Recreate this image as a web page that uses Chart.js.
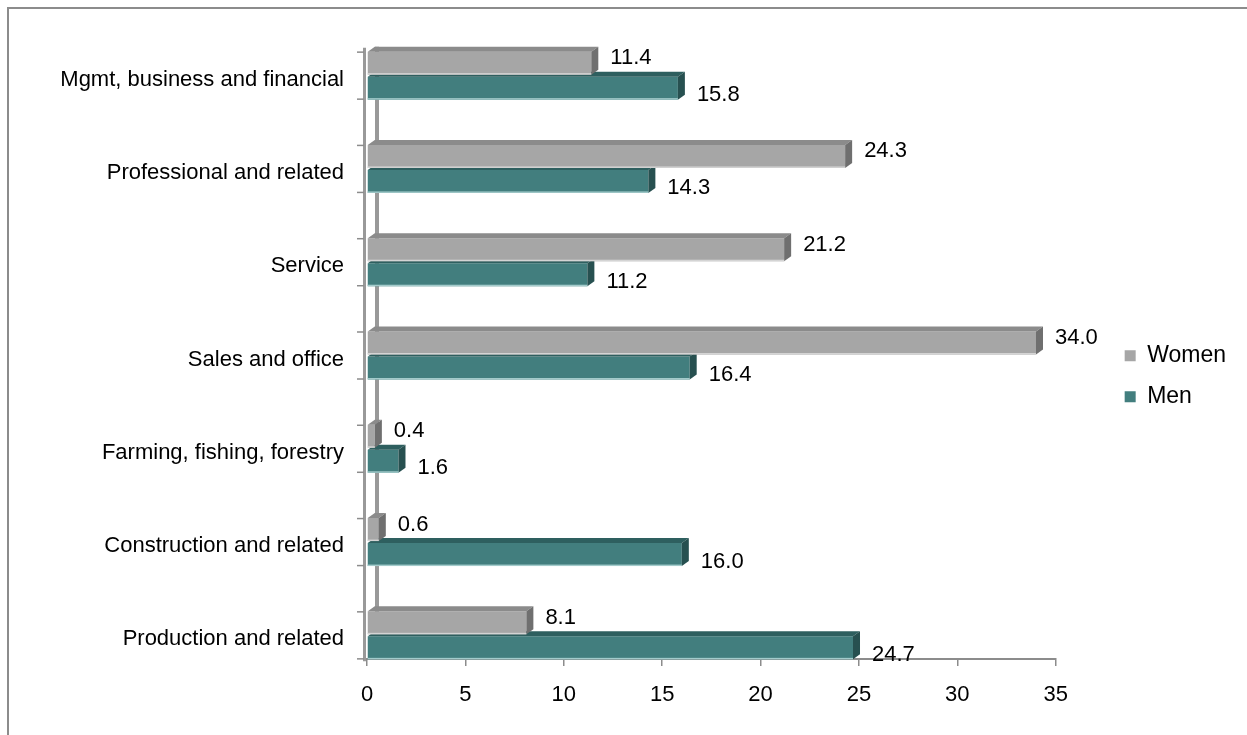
<!DOCTYPE html>
<html>
<head>
<meta charset="utf-8">
<title>Employed persons by occupation and sex</title>
<script src="https://cdn.jsdelivr.net/npm/chart.js@4.4.1/dist/chart.umd.min.js"></script>
<style>
  html, body { margin: 0; padding: 0; background: #fff; overflow: hidden; }
  #wrap { position: relative; width: 1247px; height: 735px; }
  #frame {
    position: absolute; left: 7px; top: 7px; width: 1300px; height: 800px;
    border-top: 2px solid #8c8c8c; border-left: 2px solid #8c8c8c;
    pointer-events: none;
  }
</style>
</head>
<body>
<div id="wrap">
  <canvas id="chart" width="1247" height="735"></canvas>
  <div id="frame"></div>
</div>
<script>
// occupation groups, top to bottom
const occupations = [
  'Mgmt, business and financial',
  'Professional and related',
  'Service',
  'Sales and office',
  'Farming, fishing, forestry',
  'Construction and related',
  'Production and related'
];

// percent of employed, by sex
const women = [11.4, 24.3, 21.2, 34.0, 0.4, 0.6, 8.1];
const men = [15.8, 14.3, 11.2, 16.4, 1.6, 16.0, 24.7];

// value axis
const xMin = 0;
const xMax = 35;
const xStep = 5;

const FONT = "'Liberation Sans', Arial, sans-serif";
const AXIS_GREY = '#8c8c8c';

// bar layout inside each category band
const CAT_PCT = 0.536;
const BAR_PCT = 0.92;
// floor line sits at the bottom edge of the lower bar of the last group
const FLOOR = occupations.length - 1 + CAT_PCT / 2 - (CAT_PCT / 2) * (1 - BAR_PCT) / 2;

// extrusion of the bars
const DX = 7;
const DY = 5;

const faces = {
  Women: { top: '#8b8b8b', side: '#6f6f6f', lip: '#d4d4d4', labelShift: -5 },
  Men: { top: '#2e5f5f', side: '#275050', lip: '#a3cbcb', labelShift: 7 }
};

function fillPoly(ctx, pts, color) {
  ctx.beginPath();
  ctx.moveTo(pts[0][0], pts[0][1]);
  for (let i = 1; i < pts.length; i++) ctx.lineTo(pts[i][0], pts[i][1]);
  ctx.closePath();
  ctx.fillStyle = color;
  ctx.fill();
}

const depth = {
  id: 'depth',
  beforeDatasetsDraw(chart) {
    const { ctx, scales: { x } } = chart;
    const x0 = x.getPixelForValue(0);
    const bars = chart.getDatasetMeta(0).data;
    const first = bars[0];
    const last = bars[bars.length - 1];
    // back edge of the side wall, shows between the groups
    ctx.save();
    ctx.strokeStyle = '#999999';
    ctx.lineWidth = 4;
    ctx.beginPath();
    ctx.moveTo(x0 + 10, first.y - first.height / 2 - DY);
    ctx.lineTo(x0 + 10, last.y);
    ctx.stroke();
    ctx.restore();
  },
  afterDatasetDraw(chart, args) {
    const { ctx } = chart;
    const f = faces[chart.data.datasets[args.index].label];
    ctx.save();
    args.meta.data.forEach(bar => {
      const t = bar.y - bar.height / 2;
      const b = bar.y + bar.height / 2;
      const s = bar.base;
      const e = bar.x;
      fillPoly(ctx, [[s, t], [e, t], [e + DX, t - DY], [s + DX, t - DY]], f.top);
      fillPoly(ctx, [[e, t], [e + DX, t - DY], [e + DX, b - DY], [e, b]], f.side);
      ctx.fillStyle = f.lip;
      ctx.fillRect(s, b - 1.5, e - s, 1.5);
    });
    ctx.restore();
  },
  afterDatasetsDraw(chart) {
    const { ctx, scales: { x, y } } = chart;
    const x0 = x.getPixelForValue(0);
    const band = y.getPixelForValue(1) - y.getPixelForValue(0);
    const floorY = y.getPixelForValue(FLOOR);
    ctx.save();

    // front edge of the side wall with its tick marks
    ctx.strokeStyle = '#999999';
    ctx.lineWidth = 3;
    ctx.beginPath();
    ctx.moveTo(x0 - 2.5, y.getPixelForValue(0) - 0.3 * band);
    ctx.lineTo(x0 - 2.5, floorY + 2);
    ctx.stroke();
    ctx.strokeStyle = AXIS_GREY;
    ctx.lineWidth = 1.5;
    occupations.forEach((_, i) => {
      const yc = y.getPixelForValue(i);
      [-0.252, 0.252].forEach(d => {
        ctx.beginPath();
        ctx.moveTo(x0 - 10, yc + d * band);
        ctx.lineTo(x0 - 3, yc + d * band);
        ctx.stroke();
      });
    });

    // value labels
    ctx.fillStyle = '#000';
    ctx.font = '22px ' + FONT;
    ctx.textAlign = 'left';
    ctx.textBaseline = 'middle';
    chart.data.datasets.forEach((ds, di) => {
      const f = faces[ds.label];
      chart.getDatasetMeta(di).data.forEach((bar, j) => {
        ctx.fillText(ds.data[j].toFixed(1), bar.x + DX + 12, bar.y + f.labelShift);
      });
    });
    ctx.restore();
  }
};

new Chart(document.getElementById('chart'), {
  type: 'bar',
  data: {
    labels: occupations,
    datasets: [
      {
        label: 'Women',
        data: women,
        backgroundColor: '#a6a6a6',
        borderWidth: 0,
        barPercentage: BAR_PCT,
        categoryPercentage: CAT_PCT
      },
      {
        label: 'Men',
        data: men,
        backgroundColor: '#427e7e',
        borderWidth: 0,
        barPercentage: BAR_PCT,
        categoryPercentage: CAT_PCT
      }
    ]
  },
  options: {
    indexAxis: 'y',
    responsive: false,
    animation: false,
    events: [],
    layout: { padding: { top: 29, bottom: 53, left: 0, right: 11 } },
    scales: {
      x: {
        type: 'linear',
        position: { y: FLOOR },
        min: xMin,
        max: xMax,
        ticks: {
          stepSize: xStep,
          color: '#000',
          font: { family: FONT, size: 22 },
          padding: 16
        },
        grid: {
          display: true,
          drawOnChartArea: false,
          drawTicks: true,
          tickLength: 6,
          color: AXIS_GREY,
          lineWidth: 1.5
        },
        border: { display: true, color: AXIS_GREY, width: 2 }
      },
      y: {
        type: 'category',
        position: 'left',
        // the wall and its ticks are drawn by the depth plugin;
        // the invisible tick length only sets the label gap
        grid: {
          display: true,
          drawOnChartArea: false,
          drawTicks: true,
          tickLength: 23,
          color: 'rgba(0,0,0,0)'
        },
        border: { display: false },
        ticks: {
          color: '#000',
          font: { family: FONT, size: 22 },
          padding: 0,
          labelOffset: 4
        },
        afterFit(scale) { scale.width = 367; }
      },
      // empty strip between the plot and the legend
      gap: {
        type: 'category',
        position: 'right',
        grid: { display: false },
        border: { display: false },
        ticks: { display: false },
        afterFit(scale) { scale.width = 51; }
      }
    },
    plugins: {
      legend: {
        position: 'right',
        title: { display: true, text: '', font: { size: 18 }, padding: { top: 10, bottom: 10 } },
        labels: {
          color: '#000',
          font: { family: FONT, size: 23 },
          boxWidth: 11,
          boxHeight: 11,
          padding: 18
        }
      },
      tooltip: { enabled: false },
      title: { display: false }
    }
  },
  plugins: [depth]
});
</script>
</body>
</html>
